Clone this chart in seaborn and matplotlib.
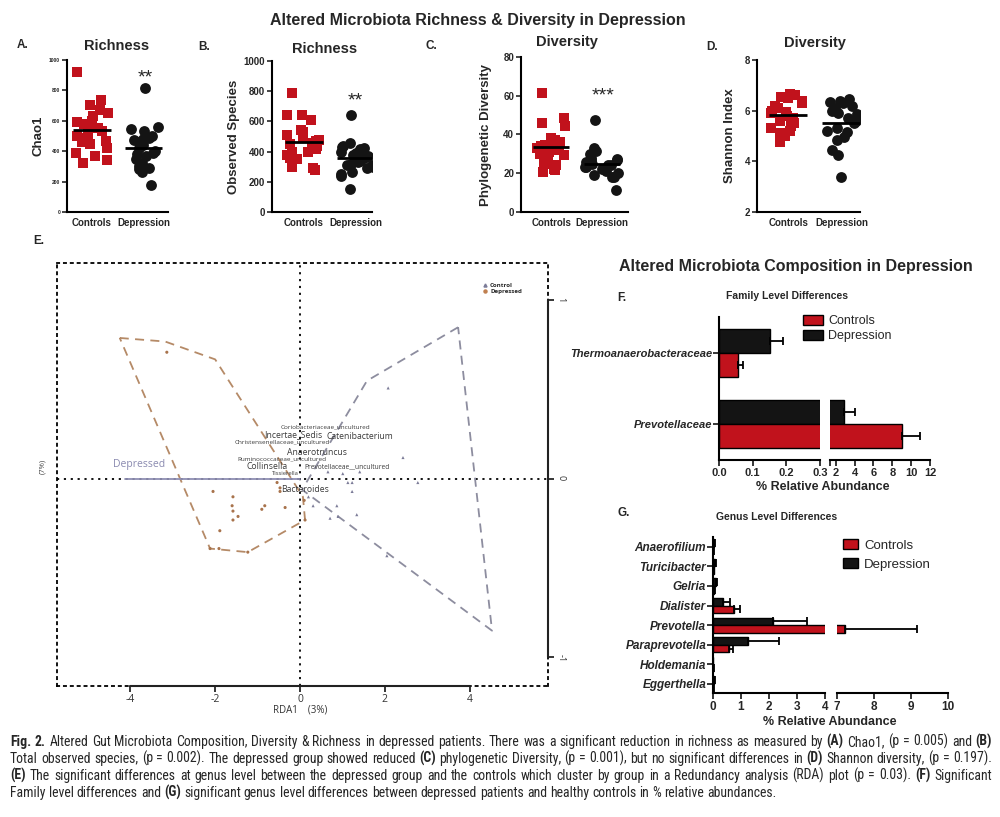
import numpy as np
import pandas as pd
import matplotlib
matplotlib.use("Agg")
import matplotlib.pyplot as plt
import matplotlib.transforms as mtrans
from matplotlib import font_manager as fm
from matplotlib.patches import Patch
from matplotlib.lines import Line2D
import seaborn as sns

# ---------------- data ----------------
groups = ["Controls", "Depression"]

chao1_controls = [920, 735, 705, 670, 650, 630, 600, 590, 580, 570, 550, 530, 510, 500, 490, 470, 460, 450, 420, 390, 370, 345, 325]
chao1_depression = [815, 560, 545, 530, 500, 490, 480, 475, 470, 460, 440, 420, 400, 390, 380, 370, 350, 320, 300, 290, 285, 260, 175]
obs_controls = [790, 645, 640, 610, 545, 530, 510, 490, 480, 470, 460, 450, 440, 420, 400, 395, 380, 360, 350, 300, 290, 275]
obs_depression = [645, 455, 440, 430, 425, 420, 400, 390, 380, 370, 360, 340, 330, 310, 300, 320, 310, 290, 240, 265, 250, 155]
pdiv_controls = [61.5, 48.5, 46, 44.5, 38, 37, 36, 35, 34.5, 34, 33, 32, 31, 30, 29.5, 28, 27, 25, 24, 22, 21.5, 20.5]
pdiv_depression = [47.5, 33, 31.5, 30, 28, 27.5, 27, 27, 26, 25, 24.5, 24, 23, 22, 23, 22, 21, 20, 19, 18, 18, 11.5]
shannon_controls = [6.65, 6.6, 6.55, 6.5, 6.4, 6.3, 6.2, 6.1, 6.0, 5.95, 5.9, 5.8, 5.7, 5.6, 5.5, 5.4, 5.3, 5.2, 5.1, 5.0, 4.75]
shannon_depression = [6.45, 6.4, 6.35, 6.3, 6.2, 6.1, 6.0, 5.9, 5.85, 5.8, 5.7, 5.6, 5.5, 5.3, 5.2, 5.15, 4.95, 4.85, 4.45, 4.25, 3.4]

# RDA (panel E)
rda_dep_x = [-3.14, -2.05, -1.58, -1.60, -1.58, -1.58, -1.46, -1.89, -1.91, -0.83, -0.90, -0.35, -0.54, -0.47, -0.47, 0.10, 0.12, -2.12, -1.23]
rda_dep_y = [0.71, -0.07, -0.10, -0.15, -0.18, -0.23, -0.21, -0.29, -0.39, -0.15, -0.17, -0.16, -0.02, -0.05, -0.07, -0.12, -0.23, -0.39, -0.41]
rda_ctrl_x = [2.08, 2.43, 2.78, 1.23, 0.66, 1.01, 1.41, 1.13, 1.23, 0.87, 0.90, 1.34, 0.31, 2.05, 0.71, 0.20]
rda_ctrl_y = [0.51, 0.12, -0.02, -0.07, 0.04, 0.03, 0.04, -0.02, -0.02, -0.15, -0.21, -0.20, -0.15, -0.43, -0.22, -0.10]
dep_hull_x = [-4.25, -3.18, -2.00, 0.07, 0.12, -1.23, -2.12, -4.25]
dep_hull_y = [0.79, 0.77, 0.67, -0.10, -0.23, -0.41, -0.39, 0.79]
ctrl_hull_x = [3.73, 1.58, 0.05, 4.53, 3.73]
ctrl_hull_y = [0.85, 0.55, -0.06, -0.85, 0.85]
depressed_vector_x = [-4.13, 0.0]
depressed_vector_y = [0.0, 0.0]
rda_taxa = ["Coriobacteriaceae_uncultured", "Incertae_Sedis", "Catenibacterium",
            "Christensenellaceae_uncultured", "Anaerotruncus", "Ruminococcaceae_uncultured",
            "Collinsella", "Prevotellaceae__uncultured", "Tissierella", "Bacteroides"]
rda_taxa_x = [0.60, -0.16, 1.42, -0.42, 0.40, -0.42, -0.78, 1.10, -0.35, 0.12]
rda_taxa_y = [0.29, 0.25, 0.24, 0.21, 0.15, 0.11, 0.07, 0.07, 0.03, -0.06]

# Panel F (family level)
family_names = ["Thermoanaerobacteraceae", "Prevotellaceae"]
family_controls = [0.055, 9.0]
family_controls_err = [0.015, 1.9]
family_depression = [0.15, 2.9]
family_depression_err = [0.04, 1.2]

# Panel G (genus level)
genus_names = ["Anaerofilium", "Turicibacter", "Gelria", "Dialister", "Prevotella",
               "Paraprevotella", "Holdemania", "Eggerthella"]
genus_controls = [0.01, 0.02, 0.04, 0.75, 7.22, 0.57, 0.01, 0.01]
genus_controls_err = [0.02, 0.03, 0.03, 0.20, 1.93, 0.15, 0.01, 0.02]
genus_depression = [0.03, 0.06, 0.10, 0.36, 2.15, 1.25, 0.005, 0.04]
genus_depression_err = [0.03, 0.05, 0.06, 0.24, 1.22, 1.11, 0.005, 0.04]

caption_lines = [
    [("Fig. 2.", True), ("Altered Gut Microbiota Composition, Diversity & Richness in depressed patients. There was a significant reduction in richness as measured by", False), ("(A)", True), ("Chao1, (p = 0.005) and", False), ("(B)", True)],
    [("Total observed species, (p = 0.002). The depressed group showed reduced", False), ("(C)", True), ("phylogenetic Diversity, (p = 0.001), but no significant differences in", False), ("(D)", True), ("Shannon diversity, (p = 0.197).", False)],
    [("(E)", True), ("The significant differences at genus level between the depressed group and the controls which cluster by group in a Redundancy analysis (RDA) plot (p = 0.03).", False), ("(F)", True), ("Significant", False)],
    [("Family level differences and", False), ("(G)", True), ("significant genus level differences between depressed patients and healthy controls in % relative abundances.", False)],
]

# ---------------- style ----------------
sns.set_theme(style="ticks")
plt.rcParams["font.family"] = ["Liberation Sans", "DejaVu Sans"]
plt.rcParams["axes.unicode_minus"] = False

RED = "#c1121c"
BLK = "#141414"
W, H = 1000, 817

fig = plt.figure(figsize=(10, 8.17), dpi=100)
fig.patch.set_facecolor("white")


def ax_px(l, t, r, b):
    return fig.add_axes([l / W, 1 - b / H, (r - l) / W, (b - t) / H])


def ftext(x, y, s, **kw):
    kw.setdefault("va", "center")
    return fig.text(x / W, 1 - y / H, s, **kw)


def avail_font(names):
    have = {f.name for f in fm.fontManager.ttflist}
    for n in names:
        if n in have:
            return n
    return "DejaVu Sans"


# ---------------- A-D dot plots ----------------
def dot_panel(box, ctrl, dep, ylim, yticks, ylabel, xlim, tick_fs, label_x, seed):
    ax = ax_px(*box)
    dfc = pd.DataFrame({"group": "Controls", "value": ctrl})
    dfd = pd.DataFrame({"group": "Depression", "value": dep})
    np.random.seed(seed)
    sns.stripplot(data=dfc, x="group", y="value", order=groups, marker="s", color=RED,
                  size=7.5, jitter=0.33, linewidth=0, ax=ax, zorder=3)
    sns.stripplot(data=dfd, x="group", y="value", order=groups, marker="o", color=BLK,
                  size=7.8, jitter=0.33, linewidth=0, ax=ax, zorder=3)
    for i, d in enumerate([dfc, dfd]):
        ax.hlines(d["value"].mean(), i - 0.36, i + 0.36, colors="black", lw=2, zorder=6)
    ax.set_xlim(*xlim)
    ax.set_ylim(*ylim)
    ax.set_yticks(yticks)
    ax.set_xlabel("")
    ax.set_ylabel(ylabel, fontsize=9.5, fontweight="bold")
    ax.yaxis.set_label_coords(label_x, 0.5)
    for s in ["top", "right"]:
        ax.spines[s].set_visible(False)
    for s in ["left", "bottom"]:
        ax.spines[s].set_linewidth(1.5)
        ax.spines[s].set_color("black")
    ax.tick_params(axis="y", length=3.5, width=1.2, labelsize=tick_fs, pad=1.5)
    ax.tick_params(axis="x", length=0, labelsize=7, pad=4)
    for lab in ax.get_xticklabels():
        lab.set_fontweight("bold")
    for lab in ax.get_yticklabels():
        lab.set_fontweight("bold")
    return ax


axA = dot_panel((67, 60, 168, 212), chao1_controls, chao1_depression, (0, 1000),
                [0, 200, 400, 600, 800, 1000], "Chao1", (-0.48, 1.47), 3.5, -0.22, 7)
axB = dot_panel((272, 61, 372, 212), obs_controls, obs_depression, (0, 1000),
                [0, 200, 400, 600, 800, 1000], "Observed Species", (-0.6, 1.3), 7, -0.32, 11)
axC = dot_panel((521, 57, 628, 212), pdiv_controls, pdiv_depression, (0, 80),
                [0, 20, 40, 60, 80], "Phylogenetic Diversity", (-0.6, 1.52), 7, -0.27, 5)
axD = dot_panel((757, 60, 860, 212), shannon_controls, shannon_depression, (2, 8),
                [2, 4, 6, 8], "Shannon Index", (-0.58, 1.34), 7, -0.20, 3)

ftext(478, 20, "Altered Microbiota Richness & Diversity in Depression", ha="center",
      fontsize=11.5, fontweight="bold")
for x, y, s in [(17, 45, "A."), (198, 47, "B."), (426, 46, "C."), (706, 47, "D.")]:
    ftext(x, y, s, ha="left", fontsize=8.5, fontweight="bold")
for x, y, s in [(117, 46, "Richness"), (325, 49, "Richness"), (567, 42, "Diversity"), (815, 43, "Diversity")]:
    ftext(x, y, s, ha="center", fontsize=10.5, fontweight="bold")
for x, y, s in [(145, 78, "**"), (355, 101, "**"), (603, 96, "***")]:
    ftext(x, y, s, ha="center", fontsize=14)

# ---------------- E: RDA ----------------
efont = avail_font(["Open Sans", "Lato", "DejaVu Sans"])
axE = ax_px(57, 263, 548, 686)
axE.set_xlim(-5.73, 5.85)
axE.set_ylim(-1.16, 1.21)
dot = (0, (1.2, 2.6))
for s in axE.spines.values():
    s.set_linestyle(dot)
    s.set_linewidth(1.3)
    s.set_color("black")
axE.axhline(0, color="black", ls=dot, lw=1.3, zorder=1)
axE.axvline(0, color="black", ls=dot, lw=1.3, zorder=1)
axE.plot(dep_hull_x, dep_hull_y, color="#b58a67", ls=(0, (5, 3.5)), lw=1.3, zorder=2)
axE.plot(ctrl_hull_x, ctrl_hull_y, color="#8d8d9f", ls=(0, (5, 3.5)), lw=1.3, zorder=2)
axE.plot(depressed_vector_x, depressed_vector_y, color="#8f8fb3", lw=1.3, zorder=3)
axE.text(-3.8, 0.08, "Depressed", color="#8a8ab0", fontsize=7.5, family=efont, ha="center", va="center")

df_rda = pd.DataFrame({
    "x": rda_dep_x + rda_ctrl_x,
    "y": rda_dep_y + rda_ctrl_y,
    "grp": ["Depressed"] * len(rda_dep_x) + ["Control"] * len(rda_ctrl_x),
})
sns.scatterplot(data=df_rda, x="x", y="y", hue="grp", style="grp",
                palette={"Depressed": "#a8734c", "Control": "#7c7c98"},
                markers={"Depressed": "o", "Control": "^"}, s=5, linewidth=0,
                legend=False, ax=axE, zorder=4)
taxa_fs = [4.6, 6.2, 6.2, 4.6, 6.2, 4.6, 6.2, 4.8, 4.2, 6.2]
for name, x, y, fs in zip(rda_taxa, rda_taxa_x, rda_taxa_y, taxa_fs):
    axE.text(x, y, name, fontsize=fs, color="#3a3a3a", family=efont, ha="center", va="center", zorder=5)

axE.set_xticks([-4, -2, 0, 2, 4])
axE.set_xticklabels(["-4", "-2", "0", "2", "4"], family=efont)
axE.tick_params(axis="x", length=4, width=1.3, labelsize=7.5, labelcolor="#333333", pad=2)
axE.yaxis.tick_right()
axE.set_yticks([-1, 0, 1])
axE.set_yticklabels(["-1", "0", "1"], family=efont)
axE.tick_params(axis="y", right=True, left=False, length=4, width=1.3, labelsize=6.5,
                labelrotation=270, labelcolor="#333333", pad=2)
axE.set_xlabel("")
axE.set_ylabel("")
tb = mtrans.blended_transform_factory(axE.transData, axE.transAxes)
axE.plot([-4, 4], [0, 0], transform=tb, color="#222222", lw=1.5, clip_on=False, zorder=6)
tr = mtrans.blended_transform_factory(axE.transAxes, axE.transData)
axE.plot([1, 1], [-1, 1], transform=tr, color="#222222", lw=1.5, clip_on=False, zorder=6)
axE.text(-0.03, 0.52, "(7%)", transform=axE.transAxes, rotation=90, fontsize=5.5,
         color="#444444", family=efont, ha="center", va="center")
ftext(300, 710, "RDA1    (3%)", ha="center", fontsize=7, color="#333333", family=efont)
leg_handles = [Line2D([], [], marker="^", ls="", color="#7c7c98", markersize=2.2),
               Line2D([], [], marker="o", ls="", color="#c08050", markersize=2.2)]
axE.legend(leg_handles, ["Control", "Depressed"], loc="upper left", bbox_to_anchor=(0.862, 0.96),
           frameon=False, handlelength=0.8, handletextpad=0.4, labelspacing=0.2,
           borderaxespad=0, prop={"family": efont, "size": 4.4, "weight": "bold"})
ftext(33, 241, "E.", ha="left", fontsize=8.5, fontweight="bold")


# ---------------- F & G: bars ----------------
def bar_axes(box, names, ctrl, ctrl_err, dep, dep_err, xlim, xticks, xticklabels, ylim,
             width, show_y, ylab_fs, tick_fs):
    ax = ax_px(*box)
    df = pd.DataFrame({"taxon": names * 2,
                       "group": ["Depression"] * len(names) + ["Controls"] * len(names),
                       "value": dep + ctrl})
    sns.barplot(data=df, y="taxon", x="value", hue="group", order=names,
                hue_order=["Depression", "Controls"],
                palette={"Controls": RED, "Depression": BLK}, orient="h", width=width,
                edgecolor="black", linewidth=1.0, errorbar=None, legend=False,
                saturation=1, ax=ax)
    off = width / 4
    ypos = np.arange(len(names))
    z = np.zeros(len(names))
    ax.errorbar(dep, ypos - off, xerr=[z, dep_err], fmt="none", ecolor="black",
                elinewidth=1.3, capsize=3.2, capthick=1.3, zorder=5)
    ax.errorbar(ctrl, ypos + off, xerr=[z, ctrl_err], fmt="none", ecolor="black",
                elinewidth=1.3, capsize=3.2, capthick=1.3, zorder=5)
    ax.set_xlim(*xlim)
    ax.set_ylim(*ylim)
    ax.set_xticks(xticks)
    ax.set_xticklabels(xticklabels)
    ax.set_xlabel("")
    ax.set_ylabel("")
    ax.spines["top"].set_visible(False)
    ax.spines["right"].set_visible(False)
    ax.spines["bottom"].set_linewidth(1.5)
    ax.spines["bottom"].set_color("black")
    ax.tick_params(axis="x", length=4, width=1.3, labelsize=tick_fs, pad=2)
    for lab in ax.get_xticklabels():
        lab.set_fontweight("bold")
    if show_y:
        ax.spines["left"].set_linewidth(1.5)
        ax.spines["left"].set_color("black")
        ax.tick_params(axis="y", length=4, width=1.3, labelsize=ylab_fs, pad=1)
        for lab in ax.get_yticklabels():
            lab.set_fontweight("bold")
            lab.set_fontstyle("italic")
    else:
        ax.spines["left"].set_visible(False)
        ax.tick_params(axis="y", left=False, labelleft=False)
    return ax


fam_ylim = (1.507, -0.507)
axF1 = bar_axes((719, 317, 820, 460), family_names, family_controls, family_controls_err,
                family_depression, family_depression_err, (0, 0.3), [0, 0.1, 0.2, 0.3],
                ["0.0", "0.1", "0.2", "0.3"], fam_ylim, 0.69, True, 8, 8)
axF2 = bar_axes((830, 317, 930, 460), family_names, family_controls, family_controls_err,
                family_depression, family_depression_err, (1.4, 12), [1.4, 2, 4, 6, 8, 10, 12],
                ["", "2", "4", "6", "8", "10", "12"], fam_ylim, 0.69, False, 8, 8)

gen_ylim = (7.46, -0.5)
axG1 = bar_axes((713, 537, 825, 693), genus_names, genus_controls, genus_controls_err,
                genus_depression, genus_depression_err, (0, 4), [0, 1, 2, 3, 4],
                ["0", "1", "2", "3", "4"], gen_ylim, 0.78, True, 8.5, 8.5)
axG2 = bar_axes((837, 537, 948, 693), genus_names, genus_controls, genus_controls_err,
                genus_depression, genus_depression_err, (7, 10), [7, 8, 9, 10],
                ["7", "8", "9", "10"], gen_ylim, 0.78, False, 8.5, 8.5)

ftext(796, 266, "Altered Microbiota Composition in Depression", ha="center",
      fontsize=11.5, fontweight="bold")
ftext(617, 298, "F.", ha="left", fontsize=8.5, fontweight="bold")
ftext(787, 296, "Family Level Differences", ha="center", fontsize=7.5, fontweight="bold")
ftext(617, 513, "G.", ha="left", fontsize=8.5, fontweight="bold")
ftext(777, 517, "Genus Level Differences", ha="center", fontsize=7.5, fontweight="bold")
ftext(823, 487, "% Relative Abundance", ha="center", fontsize=9, fontweight="bold")
ftext(830, 722, "% Relative Abundance", ha="center", fontsize=9, fontweight="bold")

leg_h = [Patch(facecolor=RED, edgecolor="black", label="Controls"),
         Patch(facecolor=BLK, edgecolor="black", label="Depression")]
fig.legend(handles=leg_h, loc="upper left", bbox_to_anchor=(803 / W, 1 - 315 / H),
           frameon=False, fontsize=9, handlelength=1.6, handleheight=0.8,
           labelspacing=0.25, borderaxespad=0, borderpad=0, handletextpad=0.4)
fig.legend(handles=leg_h, loc="upper left", bbox_to_anchor=(843 / W, 1 - 539 / H),
           frameon=False, fontsize=9.5, handlelength=1.1, handleheight=0.8,
           labelspacing=0.5, borderaxespad=0, borderpad=0, handletextpad=0.5)

# ---------------- caption ----------------
cap_font = avail_font(["Liberation Sans Narrow", "Roboto Condensed", "DejaVu Sans"])
renderer = fig.canvas.get_renderer()


def twidth(s, bold, fs):
    t = fig.text(0, 0, s, fontsize=fs, family=cap_font, fontweight="bold" if bold else "normal")
    w = t.get_window_extent(renderer).width
    t.remove()
    return w


line_words = []
for runs in caption_lines:
    words = []
    for txt, bold in runs:
        for w in txt.split(" "):
            if w:
                words.append((w, bold))
    line_words.append(words)

x0, x1 = 10, 992
base_fs = 10.0
sp = twidth("a a", False, base_fs) - twidth("aa", False, base_fs)
nat = []
for words in line_words[:3]:
    nat.append(sum(twidth(w, b, base_fs) for w, b in words) + sp * (len(words) - 1))
fs = base_fs * (x1 - x0) / max(nat) * 0.99
sp = twidth("a a", False, fs) - twidth("aa", False, fs)
baselines = [746, 763, 780, 797]
for li, words in enumerate(line_words):
    widths = [twidth(w, b, fs) for w, b in words]
    if li < 3:
        gap = ((x1 - x0) - sum(widths)) / (len(words) - 1)
    else:
        gap = sp
    x = x0
    for (w, b), wd in zip(words, widths):
        fig.text(x / W, 1 - baselines[li] / H, w, fontsize=fs, family=cap_font,
                 fontweight="bold" if b else "normal", va="baseline", ha="left")
        x += wd + gap

fig.savefig("out.png", dpi=100, facecolor="white")
